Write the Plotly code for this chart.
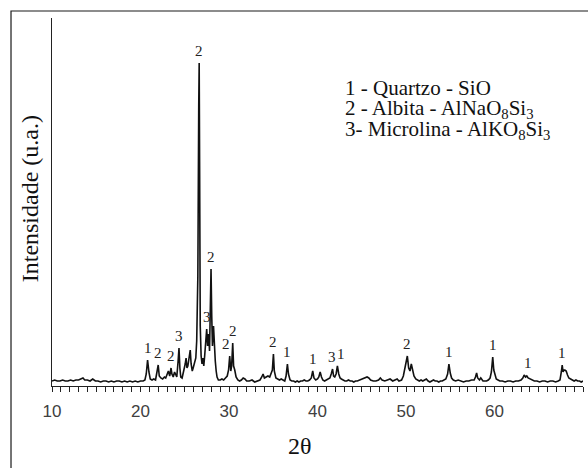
import plotly.graph_objects as go

# Difratograma de raios X (2θ em graus, intensidade em unidades arbitrárias)
two_theta = [
    10.0, 10.3, 10.6, 10.9, 11.2, 11.5, 11.8, 12.1, 12.4, 12.7, 13.0, 13.3, 13.5, 13.7,
    14.0, 14.3, 14.6, 14.9, 15.2, 15.5, 15.8, 16.1, 16.4, 16.7, 17.0, 17.3, 17.6, 17.9,
    18.2, 18.5, 18.8, 19.1, 19.4, 19.7, 20.0, 20.3, 20.5, 20.65, 20.8, 20.95, 21.1, 21.3,
    21.5, 21.7, 21.85, 22.0, 22.12, 22.3, 22.5, 22.7, 22.85, 23.0, 23.15, 23.3, 23.45,
    23.55, 23.7, 23.85, 24.0, 24.1, 24.25, 24.35, 24.45, 24.55, 24.7, 24.85, 24.95, 25.05,
    25.15, 25.25, 25.35, 25.45, 25.55, 25.62, 25.72, 25.85, 25.95, 26.05, 26.15, 26.25,
    26.35, 26.48, 26.58, 26.63, 26.68, 26.75, 26.85, 26.95, 27.05, 27.15, 27.25, 27.38,
    27.48, 27.58, 27.7, 27.8, 27.9, 27.97, 28.05, 28.13, 28.25, 28.35, 28.45, 28.55, 28.65,
    28.8, 29.0, 29.2, 29.4, 29.6, 29.8, 29.95, 30.08, 30.2, 30.3, 30.42, 30.52, 30.65,
    30.8, 31.0, 31.2, 31.4, 31.6, 31.8, 32.0, 32.3, 32.6, 32.9, 33.2, 33.5, 33.7, 33.85,
    34.0, 34.2, 34.4, 34.6, 34.75, 34.9, 35.02, 35.12, 35.3, 35.5, 35.7, 35.9, 36.1, 36.3,
    36.45, 36.6, 36.72, 36.9, 37.1, 37.3, 37.5, 37.7, 37.9, 38.1, 38.3, 38.5, 38.7, 38.9,
    39.1, 39.3, 39.46, 39.6, 39.8, 40.0, 40.15, 40.3, 40.45, 40.6, 40.8, 41.0, 41.2, 41.4,
    41.55, 41.7, 41.82, 41.95, 42.1, 42.25, 42.4, 42.55, 42.7, 42.9, 43.1, 43.3, 43.5,
    43.7, 43.9, 44.1, 44.3, 44.5, 44.8, 45.1, 45.4, 45.6, 45.8, 46.0, 46.3, 46.6, 46.9,
    47.1, 47.3, 47.6, 47.9, 48.2, 48.5, 48.8, 49.0, 49.2, 49.5, 49.7, 49.85, 50.0, 50.15,
    50.3, 50.45, 50.6, 50.75, 50.9, 51.1, 51.3, 51.5, 51.7, 51.9, 52.1, 52.3, 52.5, 52.7,
    52.9, 53.1, 53.3, 53.5, 53.7, 53.9, 54.1, 54.3, 54.5, 54.7, 54.85, 55.0, 55.15, 55.35,
    55.6, 55.9, 56.2, 56.5, 56.8, 57.1, 57.4, 57.7, 57.85, 57.98, 58.1, 58.3, 58.45, 58.55,
    58.7, 58.9, 59.1, 59.3, 59.5, 59.65, 59.8, 59.92, 60.05, 60.2, 60.4, 60.6, 60.9, 61.2,
    61.5, 61.8, 62.1, 62.4, 62.7, 63.0, 63.2, 63.35, 63.5, 63.65, 63.8, 64.0, 64.2, 64.5,
    64.8, 65.1, 65.4, 65.7, 66.0, 66.3, 66.6, 66.9, 67.2, 67.4, 67.55, 67.65, 67.75, 67.85,
    67.95, 68.1, 68.25, 68.4, 68.6, 68.8, 69.0, 69.2, 69.4, 69.6, 69.8, 70.0,
]
intensity = [
    5, 6, 5, 5, 6, 5, 5, 6, 5, 6, 6, 7, 8, 6,
    6, 5, 7, 5, 5, 4, 5, 5, 4, 5, 4, 5, 5, 4,
    5, 4, 5, 4, 5, 4, 5, 5, 6, 12, 26, 14, 7, 6,
    7, 6, 12, 21, 10, 8, 7, 9, 8, 12, 15, 10, 18,
    12, 9, 14, 10, 9, 25, 38, 18, 9, 8, 13, 18, 22,
    28, 18, 20, 25, 30, 36, 22, 15, 18, 22, 26, 28,
    45, 110, 280, 323, 220, 60, 30, 22, 28, 20, 30, 50,
    57, 40, 52, 35, 80, 117, 70, 40, 60, 35, 25, 15, 9,
    6, 6, 7, 6, 8, 10, 16, 30, 15, 20, 43, 20, 16,
    9, 6, 5, 6, 8, 7, 5, 5, 6, 4, 5, 6, 9, 12,
    8, 9, 10, 9, 13, 16, 32, 15, 8, 7, 6, 7, 6, 5,
    10, 22, 12, 6, 5, 5, 4, 5, 4, 5, 5, 6, 5, 5,
    6, 8, 15, 8, 6, 7, 9, 14, 9, 6, 5, 6, 7, 8,
    12, 17, 10, 9, 12, 20, 12, 8, 7, 6, 5, 5, 6,
    5, 5, 4, 5, 5, 6, 7, 8, 9, 8, 6, 5, 5, 6,
    8, 6, 5, 6, 7, 5, 6, 7, 5, 6, 10, 16, 22, 30,
    18, 15, 22, 14, 10, 7, 6, 5, 6, 5, 6, 7, 5, 4,
    5, 6, 5, 5, 4, 5, 5, 6, 7, 12, 22, 13, 8, 6,
    5, 6, 5, 4, 5, 5, 6, 6, 9, 13, 8, 6, 8, 7,
    5, 5, 5, 6, 8, 14, 29, 16, 10, 7, 6, 5, 5, 4,
    5, 5, 4, 5, 5, 6, 8, 11, 9, 10, 8, 7, 6, 5,
    5, 4, 5, 5, 4, 5, 5, 4, 5, 6, 14, 21, 14, 16,
    16, 15, 11, 8, 7, 6, 5, 6, 5, 5, 4, 5,
]

# Picos identificados: posição 2θ e fase (1 quartzo, 2 albita, 3 microclina)
peak_pos = [20.8, 22.0, 23.45, 24.35, 26.63, 27.48, 27.97, 30.08, 30.42, 35.02,
            36.6, 39.46, 41.7, 42.25, 50.15, 54.85, 59.8, 63.4, 67.66]
peak_phase = ["1", "2", "2", "3", "2", "3", "2", "2", "2", "2",
              "1", "1", "3", "1", "2", "1", "1", "1", "1"]

legend_lines = [
    "1 - Quartzo - SiO",
    "2 - Albita - AlNaO<sub>8</sub>Si<sub>3</sub>",
    "3- Microlina - AlKO<sub>8</sub>Si<sub>3</sub>",
]

x_range = [10, 70]
y_range = [0, 368]

SERIF = "Liberation Serif, Times New Roman, serif"

fig = go.Figure()
fig.add_trace(go.Scatter(
    x=two_theta, y=intensity, mode="lines",
    line=dict(color="#111111", width=1.6),
    showlegend=False, hoverinfo="skip",
))

# rótulos das fases sobre os picos (deslocamentos em pixels para evitar sobreposição)
nudge_x = {7: -4, 12: -1, 13: 4, 17: 3, 19: 3}
for i, (pos, ph) in enumerate(zip(peak_pos, peak_phase)):
    top = max(v for t, v in zip(two_theta, intensity) if abs(t - pos) <= 0.12)
    fig.add_annotation(
        x=pos, y=top, text=ph, showarrow=False,
        xanchor="center", yanchor="bottom", yshift=2,
        xshift=nudge_x.get(i, 0),
        font=dict(family=SERIF, size=15, color="#222222"),
    )

# legenda das fases
for k, line in enumerate(legend_lines):
    fig.add_annotation(
        xref="paper", yref="paper", x=0.548, y=0.810 - k * 0.057,
        text=line, showarrow=False, xanchor="left", yanchor="middle",
        font=dict(family=SERIF, size=21, color="#111111"),
    )

# títulos dos eixos
fig.add_annotation(
    xref="paper", yref="paper", x=-0.041, y=0.508, text="Intensidade (u.a.)",
    textangle=-90, showarrow=False, xanchor="center", yanchor="middle",
    font=dict(family=SERIF, size=24, color="#111111"),
)
fig.add_annotation(
    xref="paper", yref="paper", x=0.467, y=-0.163, text="2θ",
    showarrow=False, xanchor="center", yanchor="middle",
    font=dict(family=SERIF, size=24, color="#111111"),
)

# moldura externa
fig.add_shape(
    type="rect", xref="paper", yref="paper",
    x0=-0.0772, x1=1.2, y0=-0.4, y1=1.019,
    line=dict(color="#1a1a1a", width=1.2), fillcolor="rgba(0,0,0,0)",
)

fig.update_xaxes(
    range=x_range, showgrid=False, zeroline=False,
    showline=True, linecolor="#222222", linewidth=1.3,
    ticks="outside", ticklen=5, tickwidth=1.2, tickcolor="#222222",
    tickmode="linear", tick0=10, dtick=10,
    minor=dict(ticks="outside", ticklen=5, tickwidth=1.2, tickcolor="#222222", dtick=1, showgrid=False),
    tickfont=dict(family="Liberation Sans, Arial, sans-serif", size=17, color="#404040"),
    ticklabelstandoff=4,
)
fig.update_yaxes(
    range=y_range, showgrid=False, zeroline=False,
    showline=True, linecolor="#222222", linewidth=1.3,
    ticks="", showticklabels=False,
)

fig.update_layout(
    width=588, height=468,
    margin=dict(l=52, r=5, t=18, b=82),
    plot_bgcolor="white", paper_bgcolor="white",
)

fig.write_html("out.html")
